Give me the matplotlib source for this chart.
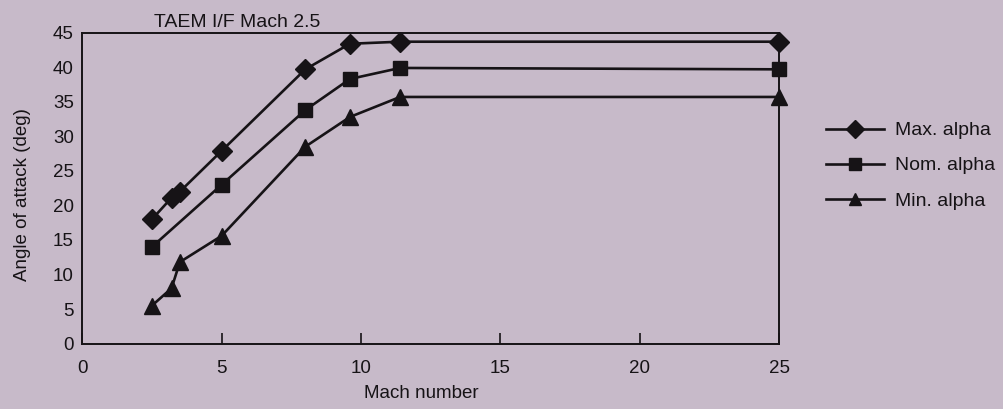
import matplotlib
matplotlib.use("Agg")
import matplotlib.pyplot as plt

mach_max = [2.5, 3.2, 3.5, 5.0, 8.0, 9.6, 11.4, 25.0]
alpha_max = [18.0, 21.1, 22.0, 27.9, 39.7, 43.4, 43.7, 43.7]
mach_nom = [2.5, 5.0, 8.0, 9.6, 11.4, 25.0]
alpha_nom = [14.0, 23.0, 33.8, 38.3, 39.9, 39.7]
mach_min = [2.5, 3.2, 3.5, 5.0, 8.0, 9.6, 11.4, 25.0]
alpha_min = [5.5, 8.0, 11.8, 15.6, 28.5, 32.8, 35.7, 35.7]

xticks = [0, 5, 10, 15, 20, 25]
yticks = [0, 5, 10, 15, 20, 25, 30, 35, 40, 45]

bg = "#c7bac9"
ink = "#161316"
plt.rcParams['font.family'] = ['Liberation Sans', 'DejaVu Sans']

fig = plt.figure(figsize=(10.04, 4.09), dpi=100, facecolor=bg)
ax = fig.add_axes([0.082, 0.16, 0.694, 0.76], facecolor=bg)

kw = dict(color=ink, lw=1.9, markeredgecolor=ink, markerfacecolor=ink)
ax.plot(mach_max, alpha_max, marker='D', ms=10.5, label='Max. alpha', **kw)
ax.plot(mach_nom, alpha_nom, marker='s', ms=10.5, label='Nom. alpha', **kw)
ax.plot(mach_min, alpha_min, marker='^', ms=11.5, label='Min. alpha', **kw)

ax.set_xlim(0, 25)
ax.set_ylim(0, 45)
ax.set_xticks(xticks)
ax.set_yticks(yticks)
ax.tick_params(axis='x', direction='in', length=8, width=1.2, colors=ink,
               labelsize=13.5, pad=12)
ax.tick_params(axis='y', length=0, colors=ink, labelsize=13.5, pad=6)
for s in ax.spines.values():
    s.set_color(ink)
    s.set_linewidth(1.4)
for l in ax.get_lines():
    l.set_clip_on(False)

ax.set_xlabel('Mach number', fontsize=13.5, color=ink)
ax.set_ylabel('Angle of attack (deg)', fontsize=13.5, color=ink)
ax.xaxis.set_label_coords(0.487, -0.133)
ax.yaxis.set_label_coords(-0.073, 0.48)

fig.text(0.236, 0.945, 'TAEM I/F Mach 2.5', ha='center', va='center',
         fontsize=14, color=ink)

leg = fig.legend(loc='center left', bbox_to_anchor=(0.815, 0.595), frameon=False,
                 fontsize=14, handlelength=3.0, labelspacing=0.9,
                 handletextpad=0.55, borderaxespad=0.0)
for t in leg.get_texts():
    t.set_color(ink)
for h in leg.legend_handles:
    h.set_markersize(9)

fig.savefig('out.png', dpi=100, facecolor=bg)
